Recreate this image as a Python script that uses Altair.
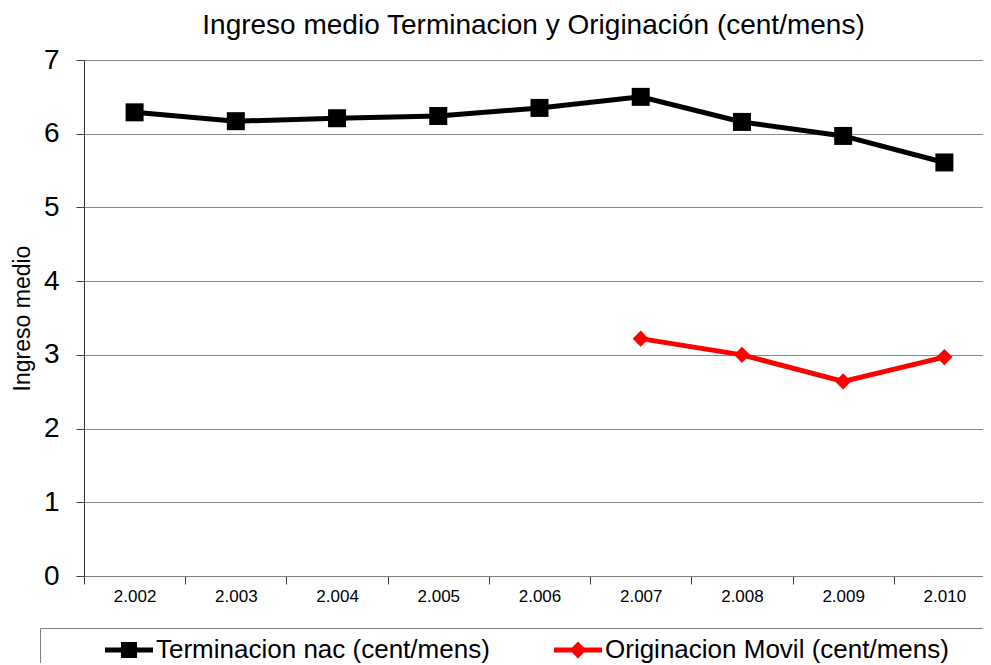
import altair as alt
import pandas as pd

years = ["2.002", "2.003", "2.004", "2.005", "2.006", "2.007", "2.008", "2.009", "2.010"]
term_vals = [6.29, 6.17, 6.21, 6.24, 6.35, 6.50, 6.16, 5.97, 5.61]
orig_years = ["2.007", "2.008", "2.009", "2.010"]
orig_vals = [3.22, 3.00, 2.64, 2.97]
series = ["Terminacion nac (cent/mens)", "Originacion Movil (cent/mens)"]
colors = ["#000000", "#ff0000"]
y_ticks = [0, 1, 2, 3, 4, 5, 6, 7]

FONT = "Liberation Sans"

rows = [{"year": y, "value": v, "series": series[0]} for y, v in zip(years, term_vals)]
rows += [{"year": y, "value": v, "series": series[1]} for y, v in zip(orig_years, orig_vals)]
df = pd.DataFrame(rows)

# legend symbols: a line segment with the marker on top; the third (blank)
# entry only widens the legend box past the right edge, as in the original
legend_domain = series + [" "]
legend_colors = colors + ["#ffffff"]
legend_paths = [
    "M-2,-0.21H2V0.21H-2Z M-0.67,-0.67H0.67V0.67H-0.67Z",
    "M-2,-0.21H2V0.21H-2Z M0,-0.7L0.7,0L0,0.7L-0.7,0Z",
    "M0,0H0.01V0.01H0Z",
]

x_enc = alt.X(
    "year:N",
    sort=years,
    scale=alt.Scale(type="band", domain=years, range=[0, 911], paddingInner=0, paddingOuter=0),
    axis=alt.Axis(
        title=None, labelAngle=0, tickBand="extent", labelFontSize=17,
        labelFont=FONT, labelColor="#000000", tickSize=8, tickColor="#404040",
        domainColor="#808080", labelPadding=4, grid=False,
    ),
)
y_enc = alt.Y(
    "value:Q",
    scale=alt.Scale(domain=[0, 7], nice=False, zero=True),
    axis=alt.Axis(
        values=y_ticks, title="Ingreso medio", titleFont=FONT, titleFontSize=23,
        titleFontWeight="normal", titleColor="#000000", titleX=-50, titleAngle=270,
        labelFont=FONT, labelFontSize=28, labelColor="#000000", labelPadding=17,
        tickSize=8, tickColor="#404040", domainColor="#303030",
        grid=True, gridColor="#868686", gridWidth=1,
    ),
)

base = alt.Chart(df).encode(x=x_enc, y=y_enc)

line_t = base.transform_filter(alt.datum.series == series[0]).mark_line(
    color=colors[0], strokeWidth=5)
pts_t = base.transform_filter(alt.datum.series == series[0]).mark_point(
    shape="square", filled=True, size=324, color=colors[0], opacity=1)
line_o = base.transform_filter(alt.datum.series == series[1]).mark_line(
    color=colors[1], strokeWidth=5)
pts_o = base.transform_filter(alt.datum.series == series[1]).mark_point(
    shape="diamond", filled=True, size=260, color=colors[1], opacity=1)

leg = alt.Legend(
    title=" ", orient="none", legendX=-44, legendY=568, direction="horizontal",
    titleOrient="left", titleFontSize=10, titlePadding=67,
    labelFont=FONT, labelFontSize=26, labelColor="#000000", labelLimit=600,
    labelOffset=14, symbolSize=576, columnPadding=64, padding=9,
    strokeColor="#808080", fillColor="#ffffff", symbolStrokeWidth=0,
)
legend_layer = base.transform_filter("false").mark_point(filled=True, size=576, opacity=1).encode(
    color=alt.Color("series:N", scale=alt.Scale(domain=legend_domain, range=legend_colors), legend=leg),
    shape=alt.Shape("series:N", scale=alt.Scale(domain=legend_domain, range=legend_paths), legend=leg),
)

chart = alt.layer(line_t, line_o, pts_t, pts_o, legend_layer).properties(
    width=899,
    height=516,
    title=alt.TitleParams(
        "Ingreso medio Terminacion y Originación (cent/mens)",
        font=FONT, fontSize=28, fontWeight="normal", color="#000000", offset=6,
    ),
    autosize=alt.AutoSizeParams(type="none"),
    padding={"left": 76, "top": 52, "right": 0, "bottom": 87},
).configure_view(stroke=None).configure(background="#ffffff")

chart.save("out.html", embed_options={"renderer": "svg", "actions": False})
